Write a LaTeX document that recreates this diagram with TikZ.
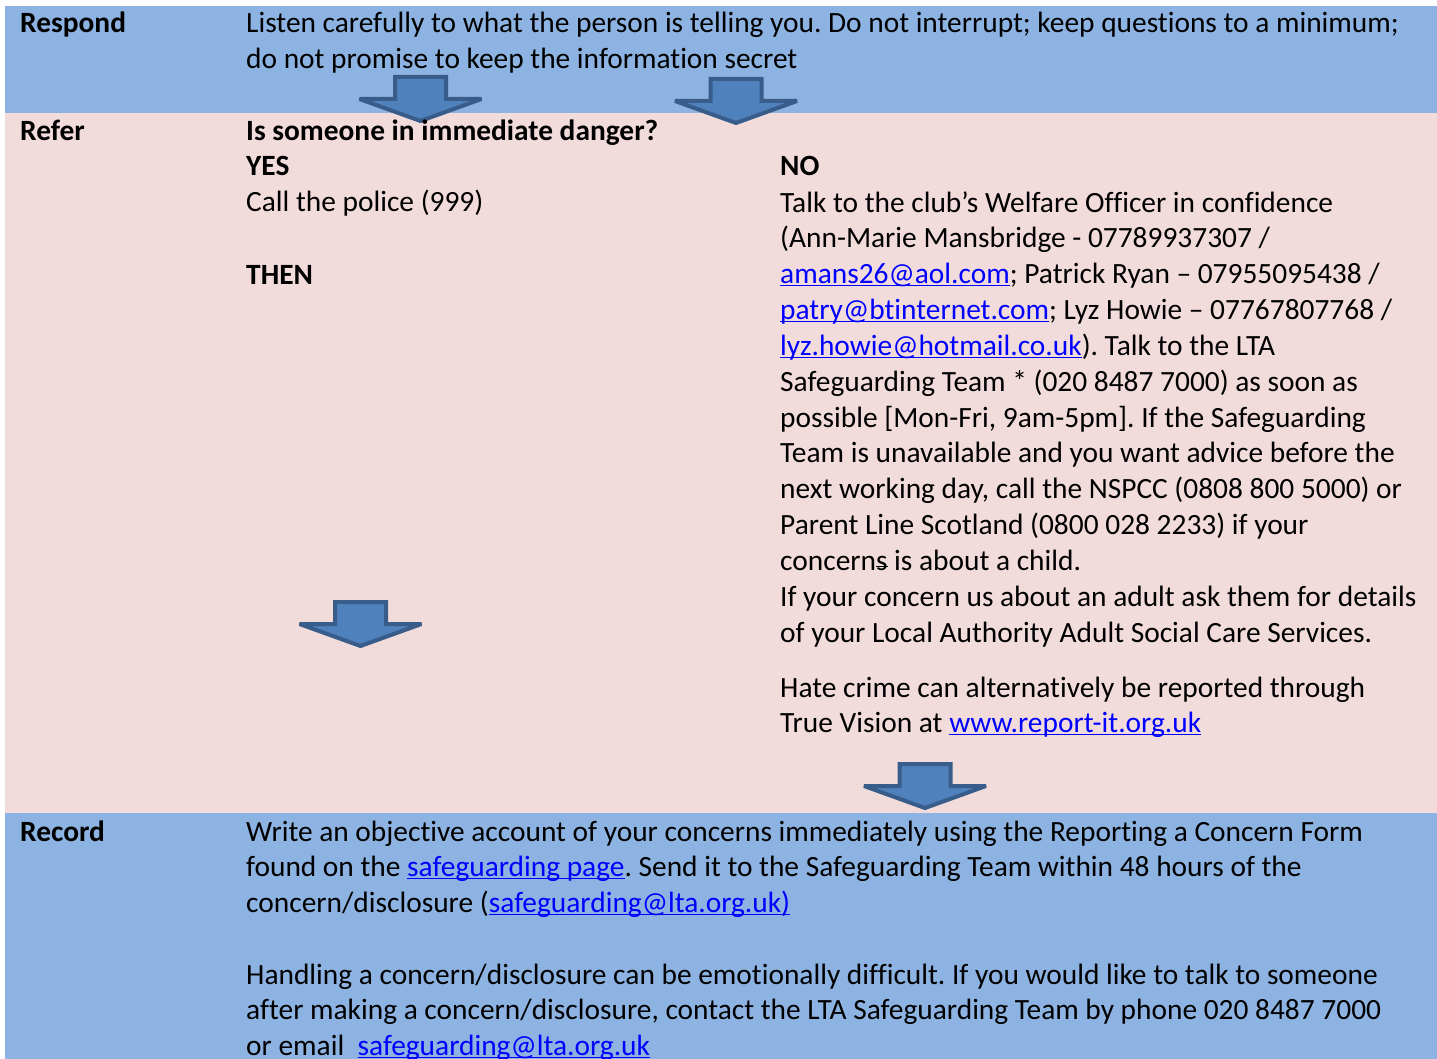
\documentclass[tikz,border=0pt]{standalone}
\usepackage{fontspec}
\setmainfont[Ligatures=NoCommon]{Carlito}
\usepackage{xcolor}
\usepackage{tikz}
\frenchspacing

\definecolor{bandblue}{HTML}{8DB3E2}
\definecolor{bandpink}{HTML}{F2DCDB}
\definecolor{arrowfill}{HTML}{4F81BD}
\definecolor{arrowedge}{HTML}{385D8A}
\definecolor{linkblue}{HTML}{0000FF}

\newcommand{\bodyfont}{\fontsize{29.4}{35.85}\selectfont}
\newcommand{\lnk}[1]{\textcolor{linkblue}{\underline{\smash{#1}}}}
\newcommand{\strk}[1]{\setbox0\hbox{#1}\rlap{\raisebox{0.22ex}{\rule{\wd0}{1.6pt}}}\box0\relax}

\begin{document}
\begin{tikzpicture}[
  x=1pt, y=-1pt,
  % multi-line nodes sit on the baseline of their last line
  txt/.style={anchor=base west, align=left, inner sep=0pt, font=\bodyfont},
  head/.style={txt, font=\bodyfont\bfseries},
  blockarrow/.style={fill=arrowfill, draw=arrowedge, line width=4pt, line join=miter, miter limit=2}
]
\useasboundingbox (0,0) rectangle (1437,1059);

% bands
\fill[bandblue] (5,6) rectangle (1437,113);
\fill[bandpink] (5,113) rectangle (1437,813);
\fill[bandblue] (5,813) rectangle (1437,1059);

% arrows
\foreach \cx/\ty in {420.5/75, 736/77, 360.5/600, 925/762}
  \draw[blockarrow] (\cx-25.5,\ty+2) -- (\cx+25.5,\ty+2) -- (\cx+25.5,\ty+24)
    -- (\cx+61,\ty+24) -- (\cx,\ty+46) -- (\cx-61,\ty+24)
    -- (\cx-25.5,\ty+24) -- cycle;

% Respond
\node[head] (respond) at (20,33) {Respond};
\node[txt] (listen) at (246,68.85) {Listen carefully to what the person is telling you. Do not interrupt; keep questions to a minimum;\\
  do not promise to keep the information secret};

% Refer
\node[head] (refer) at (20,141) {Refer};
\node[head] (danger) at (246,141) {Is someone in immediate danger?};
\node[head] (yes) at (246,176) {YES};
\node[txt] (police) at (246,212) {Call the police (999)};
\node[head] (then) at (246,284) {THEN};
\node[head] (no) at (780,176) {NO};
\node[txt] (welfare) at (780,642.2) {Talk to the club’s Welfare Officer in confidence\\
  (Ann-Marie Mansbridge - 07789937307 /\\
  \lnk{amans26@aol.com}; Patrick Ryan – 07955095438 /\\
  \lnk{patry@btinternet.com}; Lyz Howie – 07767807768 /\\
  \lnk{lyz.howie@hotmail.co.uk}). Talk to the LTA\\
  Safeguarding Team * (020 8487 7000) as soon as\\
  possible [Mon-Fri, 9am-5pm]. If the Safeguarding\\
  Team is unavailable and you want advice before the\\
  next working day, call the NSPCC (0808 800 5000) or\\
  Parent Line Scotland (0800 028 2233) if your\\
  concern\strk{s} is about a child.\\
  If your concern us about an adult ask them for details\\
  of your Local Authority Adult Social Care Services.};
\node[txt] (hate) at (780,732.85) {Hate crime can alternatively be reported through\\
  True Vision at \lnk{www.report-it.org.uk}};

% Record
\node[head] (record) at (20,841) {Record};
\node[txt] (write) at (246,912.7) {Write an objective account of your concerns immediately using the Reporting a Concern Form\\
  found on the \lnk{safeguarding page}. Send it to the Safeguarding Team within 48 hours of the\\
  concern/disclosure (\lnk{safeguarding@lta.org.uk)}};
\node[txt] (handling) at (246,1055.7) {Handling a concern/disclosure can be emotionally difficult. If you would like to talk to someone\\
  after making a concern/disclosure, contact the LTA Safeguarding Team by phone 020 8487 7000\\
  or email\ \ \lnk{safeguarding@lta.org.uk}};
\end{tikzpicture}
\end{document}
